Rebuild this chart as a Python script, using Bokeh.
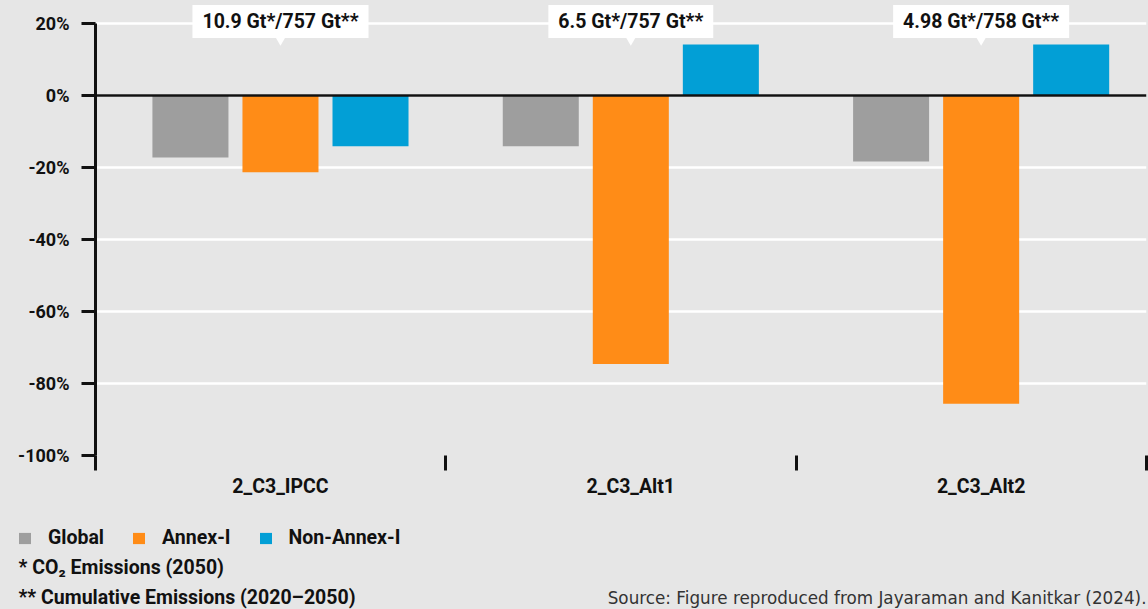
from bokeh.plotting import figure
from bokeh.layouts import column
from bokeh.models import (Range1d, FixedTicker, PrintfTickFormatter, Span, Label,
                          Legend, LegendItem)
from bokeh.core.properties import value
from bokeh.embed import file_html
from bokeh.resources import INLINE

# ---------------- data ----------------
scenarios = ["2_C3_IPCC", "2_C3_Alt1", "2_C3_Alt2"]
series_names = ["Global", "Annex-I", "Non-Annex-I"]
global_vals = [-17.2, -14.1, -18.3]
annex_vals = [-21.3, -74.6, -85.6]
nonannex_vals = [-14.1, 14.2, 14.2]
annotations = ["10.9 Gt*/757 Gt**", "6.5 Gt*/757 Gt**", "4.98 Gt*/758 Gt**"]
y_ticks = [20, 0, -20, -40, -60, -80, -100]
footnotes = ["* CO\u2082 Emissions (2050)", "** Cumulative Emissions (2020\u20132050)"]
source_note = "Source: Figure reproduced from Jayaraman and Kanitkar (2024)."

# ---------------- style ----------------
BG = "#e6e6e6"
COLORS = ["#9e9e9e", "#ff8c17", "#029fd6"]
FONT = "Roboto"
INK = "#111111"
FS = "18px"
FS_L = "19.5px"
BAR_W = 0.217
GROUP_SHIFT = 0.028
OFFSETS = [-0.257, 0.0, 0.257]

TOP_H = 505
p = figure(width=1148, height=TOP_H, output_backend="svg", toolbar_location=None,
           x_range=Range1d(0, 3), y_range=Range1d(-100, 26.39),
           min_border_left=95, min_border_right=2, min_border_top=0,
           min_border_bottom=50)
p.frame_align = False
p.background_fill_color = BG
p.border_fill_color = BG
p.outline_line_color = None

# grid
p.xgrid.visible = False
p.ygrid.grid_line_color = "white"
p.ygrid.grid_line_width = 2.5
p.ygrid.ticker = FixedTicker(ticks=y_ticks)

# y axis
p.yaxis.ticker = FixedTicker(ticks=y_ticks)
p.yaxis.formatter = PrintfTickFormatter(format="%d%%")
p.yaxis.bounds = (-100, 20)
p.yaxis.axis_line_color = INK
p.yaxis.axis_line_width = 3
p.yaxis.major_tick_line_color = INK
p.yaxis.major_tick_line_width = 3
p.yaxis.major_tick_out = 14
p.yaxis.major_tick_in = 0
p.yaxis.minor_tick_line_color = None
p.yaxis.major_label_standoff = 12
p.yaxis.major_label_text_font = FONT
p.yaxis.major_label_text_font_style = "bold"
p.yaxis.major_label_text_font_size = FS
p.yaxis.major_label_text_color = INK

# x axis: labels at group centres, separator ticks at category boundaries
centres = [i + 0.5 + GROUP_SHIFT for i in range(len(scenarios))]
p.xaxis.ticker = FixedTicker(ticks=centres, minor_ticks=list(range(len(scenarios) + 1)))
p.xaxis.major_label_overrides = {c: s for c, s in zip(centres, scenarios)}
p.xaxis.axis_line_color = None
p.xaxis.major_tick_line_color = None
p.xaxis.major_tick_out = 0
p.xaxis.major_tick_in = 0
p.xaxis.minor_tick_line_color = INK
p.xaxis.minor_tick_line_width = 3
p.xaxis.minor_tick_out = 15
p.xaxis.minor_tick_in = 0
p.xaxis.major_label_standoff = 4
p.xaxis.major_label_text_font = FONT
p.xaxis.major_label_text_font_style = "bold"
p.xaxis.major_label_text_font_size = FS_L
p.xaxis.major_label_text_color = INK

# bars
renderers = []
for vals, off, col in zip([global_vals, annex_vals, nonannex_vals], OFFSETS, COLORS):
    xs = [c + off for c in centres]
    r = p.vbar(x=xs, top=vals, bottom=0, width=BAR_W, fill_color=col, line_color=None)
    renderers.append(r)

# zero line
p.add_layout(Span(location=0, dimension="width", line_color=INK, line_width=2.5))

# annotation callouts (centred on each group)
p.scatter(x=centres, y=[15.6] * len(centres), marker="inverted_triangle", size=11,
          fill_color="white", line_color=None)
for x, t in zip(centres, annotations):
    p.add_layout(Label(x=x, y=20.56, text=t, text_align="center", text_baseline="middle",
                       text_font=FONT, text_font_style="bold", text_font_size="19.5px",
                       text_color=INK, background_fill_color="white", padding=(10, 5)))

# ---------------- footer panel (legend + notes) ----------------
H2 = 609 - TOP_H
q = figure(width=1148, height=H2, output_backend="svg", toolbar_location=None,
           x_range=Range1d(0, 1148), y_range=Range1d(609, TOP_H),
           x_axis_location=None, y_axis_location=None, min_border=0)
q.frame_align = False
q.background_fill_color = BG
q.border_fill_color = BG
q.outline_line_color = None
q.grid.visible = False

# legend swatch renderers (zero-size, only their legend glyphs are seen)
swatches = [q.vbar(x=[0], top=[TOP_H], bottom=[TOP_H], width=0, fill_color=c, line_color=None)
            for c in COLORS]
legend = Legend(items=[LegendItem(label=n, renderers=[r]) for n, r in zip(series_names, swatches)],
                orientation="horizontal", location=(17, 60), padding=0, spacing=27,
                glyph_width=15, glyph_height=14, label_standoff=16,
                background_fill_alpha=0, border_line_color=None,
                label_text_font=FONT, label_text_font_style="bold",
                label_text_font_size=FS_L, label_text_color=INK)
q.add_layout(legend, "center")

q.text(x=[18] * len(footnotes), y=[567, 597], text=footnotes, text_align="left",
       text_baseline="middle", text_font=value(FONT), text_font_style="bold",
       text_font_size=FS_L, text_color=INK)
q.text(x=[1146], y=[597], text=[source_note], text_align="right", text_baseline="middle",
       text_font=value("DejaVu Sans"), text_font_size="16.8px", text_color="#333333")

layout = column(p, q, spacing=0, styles={"background-color": BG})
open("out.html", "w").write(file_html(layout, INLINE))
